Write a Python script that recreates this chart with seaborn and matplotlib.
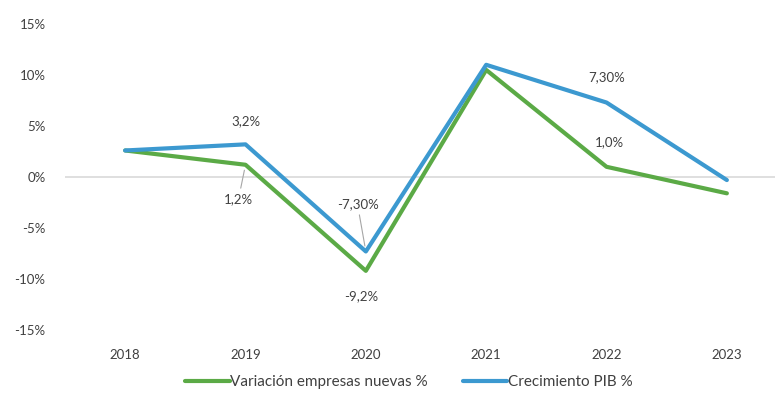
import matplotlib
matplotlib.use("Agg")
import matplotlib.pyplot as plt
import pandas as pd
import seaborn as sns

# datos
anios = ["2018", "2019", "2020", "2021", "2022", "2023"]
variacion_empresas = [2.6, 1.2, -9.2, 10.5, 1.0, -1.6]
crecimiento_pib = [2.6, 3.2, -7.3, 11.0, 7.3, -0.3]
serie_empresas = "Variación empresas nuevas %"
serie_pib = "Crecimiento PIB %"
y_ticks = [-15, -10, -5, 0, 5, 10, 15]

VERDE = "#5BAA46"
AZUL = "#3C99D0"
GRIS_TXT = "#404040"

sns.set_style("white")
plt.rcParams["font.family"] = ["Lato", "DejaVu Sans"]

df = pd.DataFrame({
    "anio": anios * 2,
    "valor": variacion_empresas + crecimiento_pib,
    "serie": [serie_empresas] * len(anios) + [serie_pib] * len(anios),
})

fig = plt.figure(figsize=(7.75, 4.01), dpi=100)
ax = fig.add_axes([65 / 775, 1 - 330 / 401, 710 / 775, 306 / 401])

ax.axhline(0, color="#D9D9D9", linewidth=1.2, zorder=0)
sns.lineplot(data=df, x="anio", y="valor", hue="serie", sort=False,
             palette={serie_empresas: VERDE, serie_pib: AZUL},
             linewidth=3, ax=ax, legend=True)

ax.set_xlim(-0.5, 5.4)
ax.set_ylim(-15, 15)
ax.set_yticks(y_ticks)
ax.set_yticklabels([f"{v}%" for v in y_ticks])
ax.set_xlabel("")
ax.set_ylabel("")
ax.tick_params(axis="both", length=0, labelsize=9.5, labelcolor=GRIS_TXT)
ax.tick_params(axis="y", pad=14)
ax.tick_params(axis="x", pad=14)
sns.despine(ax=ax, left=True, bottom=True)


def fmt(v, dec=1):
    return f"{v:.{dec}f}".replace(".", ",") + "%"


# etiquetas de datos (desplazamientos en puntos)
etiquetas = [
    (1, crecimiento_pib[1], fmt(crecimiento_pib[1]), (0, 17), False),
    (1, variacion_empresas[1], fmt(variacion_empresas[1]), (-5, -24.5), True),
    (2, crecimiento_pib[2], fmt(crecimiento_pib[2], 2), (-6, 34), True),
    (2, variacion_empresas[2], fmt(variacion_empresas[2]), (-3.6, -18), False),
    (4, crecimiento_pib[4], fmt(crecimiento_pib[4], 2), (0, 18), False),
    (4, variacion_empresas[4], fmt(variacion_empresas[4]), (2, 18), False),
]
for x, y, txt, off, guia in etiquetas:
    props = None
    if guia:
        props = dict(arrowstyle="-", color="#A6A6A6", lw=0.8,
                     shrinkA=1, shrinkB=4)
    ax.annotate(txt, xy=(x, y), xytext=off, textcoords="offset points",
                ha="center", va="center", fontsize=9.5, color=GRIS_TXT,
                arrowprops=props)

ax.legend(loc="center", bbox_to_anchor=((409 - 65) / 710, (330 - 382) / 306),
          ncol=2, frameon=False, fontsize=11, handlelength=2.9,
          handletextpad=0.05, columnspacing=2.3, labelcolor=GRIS_TXT)

fig.savefig("out.png", dpi=100)
